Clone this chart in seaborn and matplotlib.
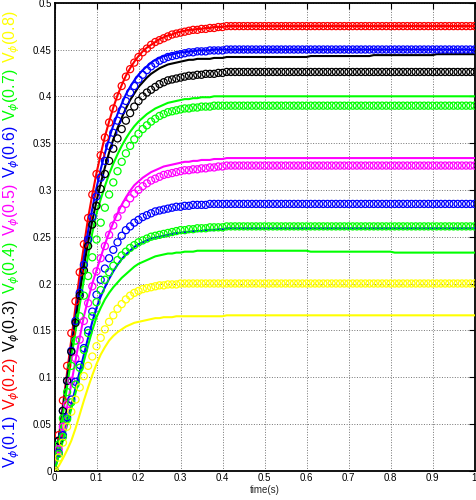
import numpy as np
import pandas as pd
import matplotlib
matplotlib.use("Agg")
import matplotlib.pyplot as plt
import seaborn as sns

# sample times (s)
time = np.round(np.linspace(0, 1, 101), 2)

# rising parts (t = 0 .. 0.40 step 0.01) and settled values
red_line_rise = [0, .035, .07, .105, .14, .175, .21, .24, .27, .295, .318, .338, .357, .373, .388, .401, .412, .422, .43, .437, .443, .448, .452, .455, .458, .461, .463, .465, .466, .468, .469, .47, .471, .471, .472, .472, .473, .473, .474, .474, .474]
red_line_end = [.475]
red_circ_rise = [0, .038, .075, .112, .147, .181, .212, .242, .27, .295, .317, .337, .356, .372, .387, .4, .411, .421, .429, .436, .442, .447, .451, .455, .458, .46, .462, .464, .466, .467, .468, .469, .47, .471, .471, .472, .472, .473, .473, .474, .474]
red_circ_end = [.475]

blue_line_rise = [0, .033, .066, .099, .132, .165, .197, .228, .256, .28, .302, .322, .339, .355, .369, .381, .392, .402, .41, .417, .423, .428, .432, .436, .439, .441, .443, .444, .445, .446, .447, .447, .448, .448, .449, .449, .449, .449, .45, .45, .45]
blue_line_end = [.45]
blue_circ_rise = [0, .032, .064, .096, .128, .16, .19, .22, .247, .271, .293, .313, .331, .347, .361, .374, .385, .395, .404, .411, .418, .423, .428, .432, .435, .438, .44, .442, .443, .444, .445, .446, .447, .447, .448, .448, .448, .449, .449, .449, .449]
blue_circ_end = [.45]

black_line_rise = [0, .033, .065, .097, .129, .16, .19, .218, .244, .267, .288, .307, .324, .34, .354, .366, .377, .387, .396, .403, .41, .415, .42, .424, .427, .43, .432, .434, .435, .436, .437, .438, .439, .439, .44, .44, .44, .44, .441, .441, .441]
black_line_end = [.442] * 20 + [.443] * 15 + [.444] * 15 + [.445] * 10
black_circ_rise = [0, .032, .064, .096, .127, .158, .187, .214, .24, .263, .283, .301, .317, .331, .344, .355, .365, .374, .382, .389, .395, .4, .404, .407, .41, .413, .415, .417, .418, .419, .42, .421, .422, .422, .423, .423, .424, .424, .424, .425, .425]
black_circ_end = [.426]

green_line_rise = [0, .03, .06, .09, .12, .149, .177, .204, .23, .254, .275, .29, .304, .317, .328, .338, .347, .355, .362, .368, .373, .377, .381, .384, .387, .389, .391, .393, .394, .395, .396, .397, .397, .398, .398, .399, .399, .399, .4, .4, .4]
green_line_end = [.4]
green_circ_rise = [0, .028, .056, .084, .112, .139, .165, .187, .208, .228, .247, .265, .281, .295, .308, .32, .33, .339, .347, .354, .36, .365, .369, .373, .376, .379, .381, .383, .384, .385, .386, .387, .387, .388, .388, .389, .389, .389, .39, .39, .39]
green_circ_end = [.39]

magenta_line_rise = [0, .022, .045, .068, .093, .118, .142, .165, .183, .2, .214, .228, .242, .254, .265, .275, .284, .292, .299, .305, .309, .313, .316, .319, .321, .323, .325, .326, .327, .328, .329, .33, .33, .331, .331, .332, .332, .332, .333, .333, .333]
magenta_line_end = [.334]
magenta_circ_rise = [0, .023, .047, .071, .096, .12, .14, .16, .179, .197, .213, .227, .24, .252, .262, .271, .279, .285, .291, .296, .3, .304, .307, .31, .312, .314, .316, .317, .318, .319, .32, .321, .321, .322, .322, .323, .323, .324, .324, .325, .325]
magenta_circ_end = [.326]

blue2_line_rise = [0, .017, .035, .053, .07, .088, .106, .124, .142, .159, .174, .186, .196, .205, .213, .22, .226, .231, .235, .239, .242, .244, .246, .248, .249, .25, .251, .252, .253, .254, .254, .255, .255, .256, .256, .256, .257, .257, .257, .258, .258]
blue2_line_end = [.259]
blue2_circ_rise = [0, .019, .038, .057, .076, .095, .113, .131, .15, .17, .188, .204, .216, .227, .236, .244, .251, .257, .261, .265, .268, .271, .273, .275, .277, .278, .279, .28, .281, .282, .282, .283, .283, .284, .284, .284, .284, .285, .285, .285, .285]
blue2_circ_end = [.285]

green2_line_rise = [0, .016, .032, .049, .066, .083, .1, .117, .134, .15, .164, .174, .183, .19, .196, .201, .206, .21, .214, .218, .221, .223, .225, .227, .229, .23, .231, .232, .232, .233, .233, .234, .234, .234, .235, .235, .235, .235, .235, .235, .235]
green2_line_end = [.235] * 20 + [.234] * 20 + [.233] * 20
green2_circ_rise = [0, .018, .036, .055, .073, .092, .11, .129, .147, .165, .18, .193, .204, .212, .219, .225, .23, .234, .238, .241, .244, .246, .248, .25, .251, .252, .253, .254, .255, .256, .257, .257, .258, .258, .259, .259, .259, .26, .26, .26, .26]
green2_circ_end = [.261]

yellow_line_rise = [0, .005, .013, .022, .032, .045, .06, .075, .089, .102, .114, .124, .132, .139, .144, .148, .151, .154, .156, .158, .159, .16, .161, .162, .163, .163, .164, .164, .164, .165, .165, .165, .165, .165, .165, .165, .165, .165, .165, .165, .165]
yellow_line_end = [.166]
yellow_circ_rise = [0, .014, .03, .047, .063, .076, .089, .101, .112, .122, .133, .142, .151, .159, .166, .173, .178, .183, .187, .19, .192, .194, .195, .196, .197, .198, .198, .199, .199, .199, .2, .2, .2, .2, .2, .2, .2, .2, .2, .2, .2]
yellow_circ_end = [.2]

series_colors = ["#FF0000", "#0000FF", "#000000", "#00FF00", "#FF00FF", "#0000FF", "#00FF00", "#FFFF00"]
label_texts = ["0.1", "0.2", "0.3", "0.4", "0.5", "0.6", "0.7", "0.8"]
label_colors = ["#0000FF", "#FF0000", "#000000", "#00FF00", "#FF00FF", "#0000FF", "#00FF00", "#FFFF00"]
x_ticks = [0, 0.1, 0.2, 0.3, 0.4, 0.5, 0.6, 0.7, 0.8, 0.9, 1]
x_ticklabels = ["0", "0.1", "0.2", "0.3", "0.4", "0.5", "0.6", "0.7", "0.8", "0.9", "1"]
y_ticks = [0, 0.05, 0.1, 0.15, 0.2, 0.25, 0.3, 0.35, 0.4, 0.45, 0.5]
y_ticklabels = ["0", "0.05", "0.1", "0.15", "0.2", "0.25", "0.3", "0.35", "0.4", "0.45", "0.5"]


def full(rise, end):
    n = len(time) - len(rise)
    tail = end if len(end) == n else (end * n if len(end) == 1 else (end + [end[-1]] * n)[:n])
    return np.array(rise + tail, dtype=float)


pairs = [
    (red_line_rise, red_line_end, red_circ_rise, red_circ_end),
    (blue_line_rise, blue_line_end, blue_circ_rise, blue_circ_end),
    (black_line_rise, black_line_end, black_circ_rise, black_circ_end),
    (green_line_rise, green_line_end, green_circ_rise, green_circ_end),
    (magenta_line_rise, magenta_line_end, magenta_circ_rise, magenta_circ_end),
    (blue2_line_rise, blue2_line_end, blue2_circ_rise, blue2_circ_end),
    (green2_line_rise, green2_line_end, green2_circ_rise, green2_circ_end),
    (yellow_line_rise, yellow_line_end, yellow_circ_rise, yellow_circ_end),
]

sns.set_style("white")
plt.rcParams["font.family"] = ["Liberation Sans", "DejaVu Sans"]
plt.rcParams["mathtext.fontset"] = "dejavusans"

fig = plt.figure(figsize=(4.76, 5.0), dpi=100)
ax = fig.add_axes([54.5 / 476, 29.3 / 500, 420 / 476, 468 / 500])

for (lr, le, cr, ce), col in zip(pairs, series_colors):
    df_line = pd.DataFrame({"t": time, "v": full(lr, le)})
    df_circ = pd.DataFrame({"t": time, "v": full(cr, ce)})
    sns.lineplot(data=df_line, x="t", y="v", ax=ax, color=col, linewidth=1.5,
                 zorder=3, legend=False)
    sns.scatterplot(data=df_circ, x="t", y="v", ax=ax, marker="o", s=26,
                    facecolor="none", edgecolor=col, linewidth=0.9, zorder=4,
                    legend=False)

ax.set_xlim(0, 1)
ax.set_ylim(0, 0.5)
ax.set_xticks(x_ticks)
ax.set_xticklabels(x_ticklabels)
ax.set_yticks(y_ticks)
ax.set_yticklabels(y_ticklabels)
ax.tick_params(direction="in", length=4, width=0.8, labelsize=7, pad=2,
               top=True, right=True, colors="black")
ax.grid(True, linestyle=":", color="0.45", linewidth=0.7)
for s in ax.spines.values():
    s.set_visible(True)
    s.set_color("black")
    s.set_linewidth(1.3)
ax.set_xlabel("time(s)", fontsize=7, labelpad=1)
ax.set_ylabel("")

label_centers = [442, 384, 326, 268, 210, 152, 95, 37]
for txt, col, yc in zip(label_texts, label_colors, label_centers):
    fig.text(12 / 476, 1 - yc / 500, r"V$_{\phi}$(" + txt + ")", color=col,
             fontsize=11.5, rotation=90, ha="center", va="center")

fig.savefig("out.png", dpi=100)
